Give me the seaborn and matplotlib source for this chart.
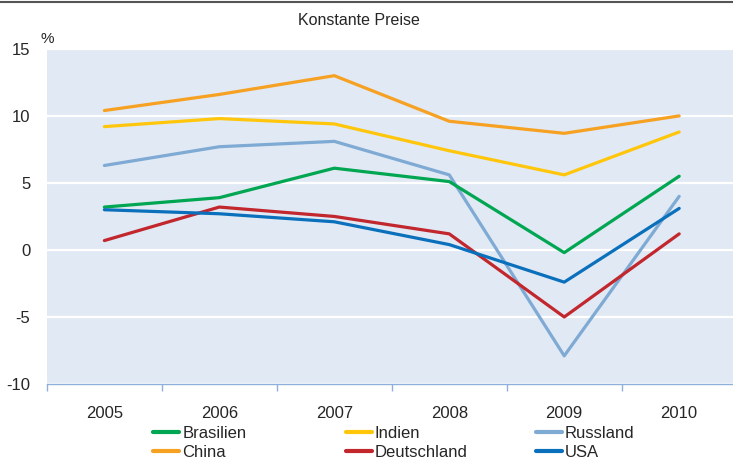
import matplotlib
matplotlib.use("Agg")
import matplotlib.pyplot as plt
import seaborn as sns
import pandas as pd
from matplotlib.lines import Line2D
from matplotlib.ticker import FixedLocator

jahre = ["2005", "2006", "2007", "2008", "2009", "2010"]
brasilien = [3.2, 3.9, 6.1, 5.1, -0.2, 5.5]
indien = [9.2, 9.8, 9.4, 7.4, 5.6, 8.8]
russland = [6.3, 7.7, 8.1, 5.6, -7.9, 4.0]
china = [10.4, 11.6, 13.0, 9.6, 8.7, 10.0]
deutschland = [0.7, 3.2, 2.5, 1.2, -5.0, 1.2]
usa = [3.0, 2.7, 2.1, 0.4, -2.4, 3.1]

farben = {
    "Brasilien": "#00a651",
    "Indien": "#ffc60b",
    "Russland": "#7eaad4",
    "China": "#f6a122",
    "Deutschland": "#c1272d",
    "USA": "#0a70bc",
}

df = pd.concat([
    pd.DataFrame({"Jahr": jahre, "Wert": werte, "Land": land})
    for land, werte in [("Russland", russland), ("China", china), ("Indien", indien),
                        ("Brasilien", brasilien), ("Deutschland", deutschland), ("USA", usa)]
])

sns.set_style("white")
plt.rcParams["font.family"] = ["Liberation Sans", "DejaVu Sans"]

fig = plt.figure(figsize=(7.33, 4.61), dpi=100)
ax = fig.add_axes([0.064, 0.167, 0.941, 0.727])
ax.set_facecolor("#e1e9f4")

sns.lineplot(data=df, x="Jahr", y="Wert", hue="Land", palette=farben,
             linewidth=2.3, ax=ax, legend=False, sort=False)

ax.set_xlim(-0.5, 5.5)
ax.set_ylim(-10, 15)
ax.set_yticks([-10, -5, 0, 5, 10, 15])
ax.set_yticklabels(["-10", "-5", "0", "5", "10", "15"])
ax.grid(axis="y", color="white", linewidth=1.6)
ax.set_axisbelow(True)
for s in ["top", "right", "left"]:
    ax.spines[s].set_visible(False)
ax.spines["bottom"].set_color("#8fb0da")
ax.spines["bottom"].set_linewidth(1.0)

ax.tick_params(axis="x", which="major", length=0, pad=16, labelsize=12)
ax.xaxis.set_minor_locator(FixedLocator([i - 0.5 for i in range(len(jahre) + 1)]))
ax.tick_params(axis="x", which="minor", bottom=True, length=5, color="#8fb0da",
               width=1.0, direction="out")
ax.tick_params(axis="y", length=0, pad=12, labelsize=12)
ax.set_xlabel("")
ax.set_ylabel("")

fig.text(0.064, 0.9, "%", fontsize=11, ha="center", va="bottom")
fig.text(0.49, 0.955, "Konstante Preise", fontsize=11.5, ha="center", va="center")
fig.add_artist(Line2D([0, 1], [0.995, 0.995], color="#555555", linewidth=1.5,
                      transform=fig.transFigure))

spalten = [(["Brasilien", "China"], 0.2), (["Indien", "Deutschland"], 0.4625),
           (["Russland", "USA"], 0.7217)]
for namen, xpos in spalten:
    handles = [Line2D([], [], color=farben[n], linewidth=3) for n in namen]
    fig.legend(handles, namen, ncol=1, loc="lower left", bbox_to_anchor=(xpos, -0.012),
               frameon=False, fontsize=12, handlelength=1.55, handletextpad=0.2,
               labelspacing=0.25, borderaxespad=0)

fig.savefig("out.png", dpi=100)
